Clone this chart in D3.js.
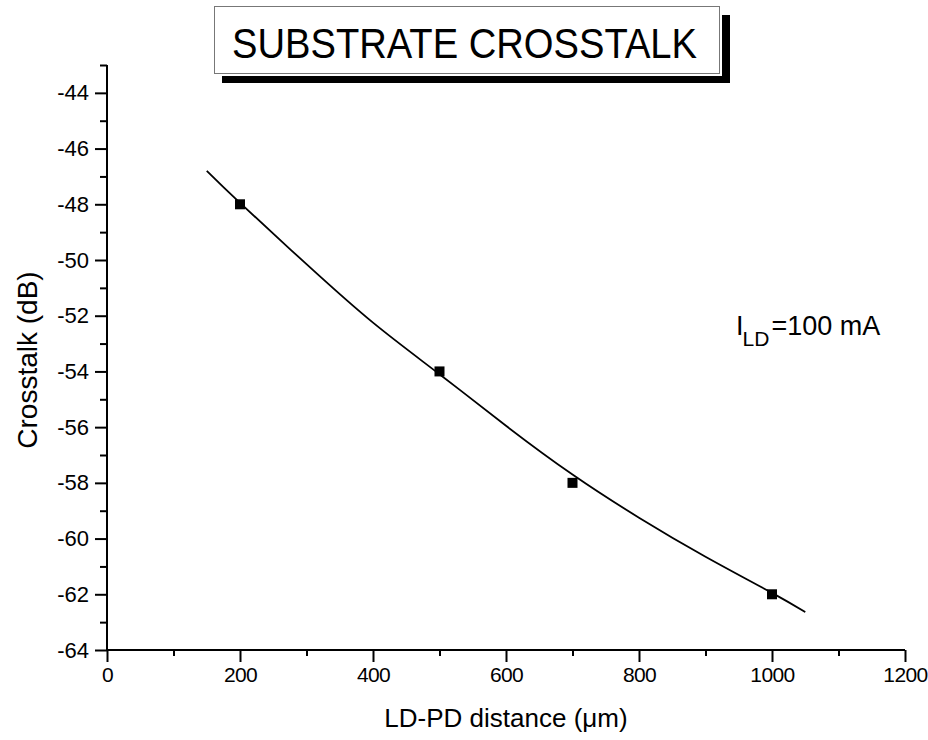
<!DOCTYPE html>
<html>
<head>
<meta charset="utf-8">
<script src="https://cdn.jsdelivr.net/npm/d3@7"></script>
<style>
  body { margin: 0; background: #fff; }
  svg { font-family: "Liberation Sans", Arial, sans-serif; }
  .tick text { font-size: 22px; font-family: "Liberation Sans", Arial, sans-serif; fill: #000; }
  .xaxis .tick text { font-size: 21px; letter-spacing: -0.6px; }
</style>
</head>
<body>
<svg id="chart" width="928" height="740"></svg>
<script>
// measured points
var distance = [200, 500, 700, 1000];
var crosstalk = [-48, -54, -58, -62];

// fitted curve
var fitX = [150, 200, 300, 400, 500, 600, 700, 800, 900, 1000, 1050];
var fitY = [-46.8, -47.95, -50.15, -52.25, -54.1, -55.95, -57.7, -59.25, -60.65, -61.95, -62.64];

var xTicks = [0, 200, 400, 600, 800, 1000, 1200];
var xMinor = [100, 300, 500, 700, 900, 1100];
var yTicks = [-64, -62, -60, -58, -56, -54, -52, -50, -48, -46, -44];
var yMinor = [-63, -61, -59, -57, -55, -53, -51, -49, -47, -45, -43];

var svg = d3.select("#chart");

var x = d3.scaleLinear().domain([0, 1200]).range([107, 905]);
var y = d3.scaleLinear().domain([-64, -43]).range([650, 65]);

// title box with shadow
var tb = svg.append("g");
tb.append("rect").attr("x", 222).attr("y", 76).attr("width", 508).attr("height", 7).attr("fill", "#000");
tb.append("rect").attr("x", 722).attr("y", 15).attr("width", 8).attr("height", 68).attr("fill", "#000");
tb.append("rect").attr("x", 214.5).attr("y", 6.5).attr("width", 505).attr("height", 67)
  .attr("fill", "#fff").attr("stroke", "#777").attr("stroke-width", 1);
tb.append("text").attr("x", 232).attr("y", 58)
  .attr("font-size", 43)
  .attr("textLength", 465).attr("lengthAdjust", "spacingAndGlyphs")
  .text("SUBSTRATE CROSSTALK");

// axes
var gx = svg.append("g").attr("class", "xaxis").attr("transform", "translate(0," + y(-64) + ")")
  .call(d3.axisBottom(x).tickValues(xTicks).tickSize(12).tickPadding(5).tickFormat(d3.format("d")));
svg.append("g").attr("transform", "translate(0," + y(-64) + ")")
  .call(d3.axisBottom(x).tickValues(xMinor).tickSize(6).tickFormat(""))
  .select(".domain").remove();

var gy = svg.append("g").attr("transform", "translate(" + x(0) + ",0)")
  .call(d3.axisLeft(y).tickValues(yTicks).tickSize(12).tickPadding(6).tickFormat(function (d) { return "-" + Math.abs(d); }));
svg.append("g").attr("transform", "translate(" + x(0) + ",0)")
  .call(d3.axisLeft(y).tickValues(yMinor).tickSize(7).tickFormat(""))
  .select(".domain").remove();

svg.selectAll(".domain").attr("stroke-width", 2).attr("d", null);
gx.select(".domain").attr("d", "M" + x(0) + ",0H" + x(1200));
gy.select(".domain").attr("d", "M0," + y(-43) + "V" + y(-64));
svg.selectAll(".tick line").attr("stroke-width", 2);

// axis titles
svg.append("text").attr("x", 506).attr("y", 727).attr("text-anchor", "middle")
  .attr("font-size", 26).text("LD-PD distance (\u03bcm)");
svg.append("text").attr("transform", "translate(37,360) rotate(-90)").attr("text-anchor", "middle")
  .attr("font-size", 28).text("Crosstalk (dB)");

// fit curve
var fit = fitX.map(function (d, i) { return [d, fitY[i]]; });
svg.append("path").datum(fit)
  .attr("fill", "none").attr("stroke", "#000").attr("stroke-width", 1.8)
  .attr("d", d3.line().x(function (d) { return x(d[0]); }).y(function (d) { return y(d[1]); }).curve(d3.curveNatural));

// points
svg.append("g").selectAll("rect").data(distance).join("rect")
  .attr("x", function (d) { return x(d) - 5; })
  .attr("y", function (d, i) { return y(crosstalk[i]) - 5; })
  .attr("width", 10).attr("height", 10).attr("fill", "#000");

// annotation
var ann = svg.append("text").attr("x", 736).attr("y", 335).attr("font-size", 27);
ann.append("tspan").text("I");
ann.append("tspan").attr("font-size", 21).attr("dy", 11).attr("dx", -1).text("LD");
ann.append("tspan").attr("dy", -11).attr("dx", 2).text("=100 mA");
</script>
</body>
</html>
